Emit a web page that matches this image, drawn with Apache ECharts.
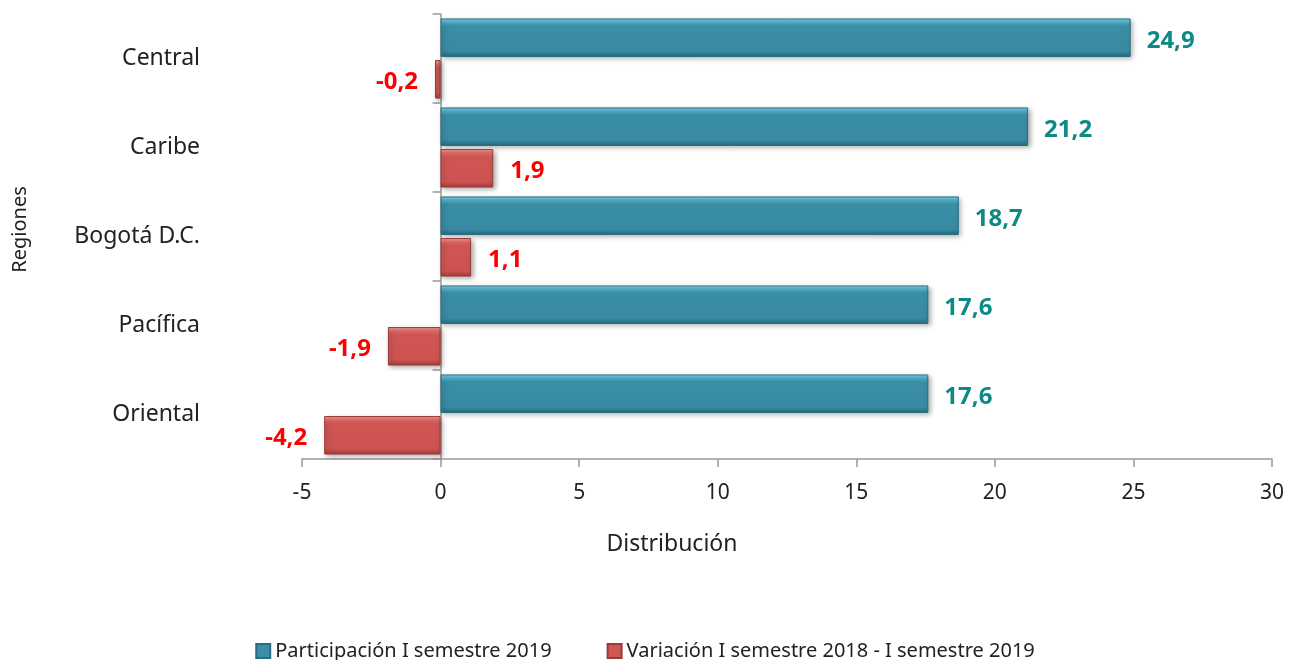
<!DOCTYPE html>
<html>
<head>
<meta charset="utf-8">
<script src="https://cdn.jsdelivr.net/npm/echarts@6/dist/echarts.min.js"></script>
<style>
html,body{margin:0;padding:0;background:#fff;}
#chart{width:1290px;height:660px;}
</style>
</head>
<body>
<div id="chart"></div>
<script>
// regiones, de arriba hacia abajo
var regiones = ['Central', 'Caribe', 'Bogotá D.C.', 'Pacífica', 'Oriental'];
var participacion = [24.9, 21.2, 18.7, 17.6, 17.6];
var variacion = [-0.2, 1.9, 1.1, -1.9, -4.2];
var nombres = ['Participación I semestre 2019', 'Variación I semestre 2018 - I semestre 2019'];

var fuente = 'Noto Sans';
function coma(v){ return v.toFixed(1).replace('.', ','); }

var chart = echarts.init(document.getElementById('chart'));

var teal = new echarts.graphic.LinearGradient(0, 0, 0, 1, [
    {offset: 0, color: '#7fd3e8'},
    {offset: 0.12, color: '#4aa9c2'},
    {offset: 0.2, color: '#3a8ea6'},
    {offset: 0.85, color: '#378aa1'},
    {offset: 1, color: '#276a7e'}
]);
var rojo = new echarts.graphic.LinearGradient(0, 0, 0, 1, [
    {offset: 0, color: '#f29a98'},
    {offset: 0.12, color: '#de6664'},
    {offset: 0.2, color: '#d05653'},
    {offset: 0.85, color: '#cd5350'},
    {offset: 1, color: '#a53c3a'}
]);

chart.setOption({
    animation: false,
    textStyle: {fontFamily: fuente},
    grid: {left: 302, right: 18, top: 14, bottom: 201, outerBoundsMode: 'none'},
    legend: {
        bottom: -6,
        left: 'center',
        itemGap: 55,
        itemWidth: 14,
        itemHeight: 14,
        icon: 'rect',
        textStyle: {fontFamily: fuente, fontSize: 20, color: '#222'},
        data: [
            {name: nombres[0], itemStyle: {color: '#3a8ea6'}},
            {name: nombres[1], itemStyle: {color: '#d05653'}}
        ]
    },
    xAxis: {
        type: 'value',
        min: -5,
        max: 30,
        interval: 5,
        name: 'Distribución',
        nameLocation: 'middle',
        nameGap: 74,
        nameTextStyle: {fontFamily: fuente, fontSize: 23, color: '#222', padding: [0, 230, 0, 0]},
        splitLine: {show: false},
        axisLine: {show: true, onZero: false, lineStyle: {color: '#999', width: 1.5}},
        axisTick: {show: true, length: 8, lineStyle: {color: '#999', width: 1.5}},
        axisLabel: {fontFamily: fuente, fontSize: 21, color: '#222', margin: 24}
    },
    yAxis: [
        {
            type: 'category',
            inverse: true,
            data: regiones,
            name: 'Regiones',
            nameLocation: 'middle',
            nameGap: 272,
            nameTextStyle: {fontFamily: fuente, fontSize: 20, color: '#222', padding: [0, 0, 0, 14]},
            axisLine: {show: false, onZero: false},
            axisTick: {show: false},
            axisLabel: {fontFamily: fuente, fontSize: 23, color: '#222', margin: 102}
        },
        {
            type: 'category',
            inverse: true,
            position: 'left',
            data: regiones,
            axisLine: {show: true, onZero: true, lineStyle: {color: '#999', width: 1.5}},
            axisTick: {show: true, length: 8, lineStyle: {color: '#999', width: 1.5}},
            axisLabel: {show: false}
        }
    ],
    series: [
        {
            name: nombres[0],
            type: 'bar',
            yAxisIndex: 0,
            barGap: '8%',
            barCategoryGap: '10%',
            data: participacion,
            itemStyle: {color: teal, borderColor: '#2a6d80', borderWidth: 1,
                shadowColor: 'rgba(0,0,0,0.35)', shadowBlur: 5, shadowOffsetX: 2, shadowOffsetY: 2},
            label: {
                show: true, position: 'right', distance: 16, offset: [0, 3],
                fontFamily: fuente, fontSize: 24, fontWeight: 'bold', color: '#0e8a86',
                formatter: function(p){ return coma(p.value); }
            }
        },
        {
            name: nombres[1],
            type: 'bar',
            yAxisIndex: 0,
            data: variacion.map(function(v){
                return {value: v, label: {position: v < 0 ? 'left' : 'right'}};
            }),
            itemStyle: {color: rojo, borderColor: '#9a3a38', borderWidth: 1,
                shadowColor: 'rgba(0,0,0,0.35)', shadowBlur: 5, shadowOffsetX: 2, shadowOffsetY: 2},
            label: {
                show: true, distance: 17, offset: [0, 3],
                fontFamily: fuente, fontSize: 24, fontWeight: 'bold', color: '#ff0000',
                formatter: function(p){ return coma(p.value); }
            }
        }
    ]
});
</script>
</body>
</html>
